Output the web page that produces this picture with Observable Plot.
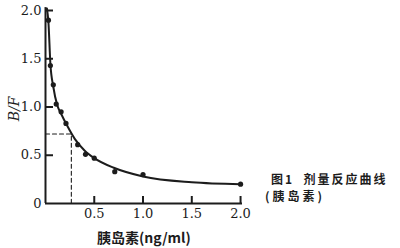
<!DOCTYPE html>
<html><head><meta charset="utf-8">
<script src="https://cdn.jsdelivr.net/npm/d3@7"></script>
<script src="https://cdn.jsdelivr.net/npm/@observablehq/plot@0.6"></script>
<style>
body{margin:0;background:#fff;}
#wrap{position:relative;width:400px;height:248px;overflow:hidden;}
.lbl{position:absolute;color:#1c1c1c;white-space:pre;line-height:1;}
</style></head>
<body><div id="wrap"></div>
<script>
// Measured points: insulin (ng/ml) vs B/F
const dose = [0.03, 0.05, 0.08, 0.11, 0.16, 0.21, 0.33, 0.41, 0.50, 0.71, 1.0, 2.0];
const bf   = [1.90, 1.43, 1.23, 1.03, 0.95, 0.83, 0.61, 0.51, 0.47, 0.33, 0.30, 0.20];
// Fitted curve
const curveX = [0.015, 0.03, 0.05, 0.08, 0.12, 0.16, 0.22, 0.30, 0.40, 0.50, 0.70, 1.0, 1.5, 2.0];
const curveY = [2.02, 1.88, 1.45, 1.21, 1.02, 0.93, 0.81, 0.67, 0.55, 0.47, 0.37, 0.28, 0.22, 0.20];
// Dashed read-off line
const refX = 0.265, refY = 0.72;
const yTicks = [0, 0.5, 1.0, 1.5, 2.0];
const yTickLabels = ["0", "0.5", "1.0", "1.5", "2.0"];
const xTicks = [0.5, 1.0, 1.5, 2.0];
const xTickLabels = ["0.5", "1.0", "1.5", "2.0"];
const xTitle = "胰岛素(ng/ml)";
const yTitle = "B/F";
const caption1 = "图1  剂量反应曲线";
const caption2 = "(胰岛素)";

const pts = dose.map((d, i) => ({x: d, y: bf[i]}));
const curve = curveX.map((d, i) => ({x: d, y: curveY[i]}));
const ink = "#1c1c1c";
const serif = "DejaVu Serif";

const chart = Plot.plot({
  width: 400, height: 248,
  marginLeft: 45, marginRight: 158, marginTop: 10, marginBottom: 45,
  style: {background: "transparent"},
  x: {domain: [0, 2.02]},
  y: {domain: [0, 2.0]},
  marks: [
    Plot.axisY({ticks: yTicks, tickFormat: (d, i) => yTickLabels[i], tickSize: 0, tickPadding: 4, label: null, fontFamily: serif, fontSize: 13, fill: ink}),
    Plot.axisX({ticks: xTicks, tickFormat: (d, i) => xTickLabels[i], tickSize: 0, tickPadding: 5, label: null, fontFamily: serif, fontSize: 13, fill: ink}),
    Plot.tickY(yTicks.slice(1), {y: d => d, stroke: ink, strokeWidth: 2, insetRight: 189}),
    Plot.tickX(xTicks, {x: d => d, stroke: ink, strokeWidth: 2, insetTop: 186}),
    Plot.ruleY([0], {stroke: ink, strokeWidth: 2}),
    Plot.ruleX([0], {stroke: ink, strokeWidth: 2, y1: 0, y2: 2.03}),
    Plot.line([{x: 0, y: refY}, {x: refX, y: refY}, {x: refX, y: 0}], {x: "x", y: "y", stroke: ink, strokeWidth: 1.1, strokeDasharray: "4,3"}),
    Plot.line(curve, {x: "x", y: "y", curve: "monotone-x", stroke: ink, strokeWidth: 2}),
    Plot.dot(pts, {x: "x", y: "y", r: 2.6, fill: ink, stroke: null})
  ]
});
const wrap = document.getElementById("wrap");
wrap.appendChild(chart);

function addLabel(text, css) {
  const d = document.createElement("div");
  d.className = "lbl";
  d.textContent = text;
  Object.assign(d.style, css);
  wrap.appendChild(d);
}
addLabel(yTitle, {left: "2px", top: "102px", fontFamily: "'DejaVu Serif', serif", fontStyle: "italic", fontSize: "14px", transform: "rotate(-90deg)", transformOrigin: "center"});
addLabel(xTitle, {left: "97px", top: "230px", fontFamily: "'Noto Sans CJK SC', sans-serif", fontWeight: "bold", fontSize: "14px"});
addLabel(caption1, {left: "271px", top: "173px", fontFamily: "'Noto Sans CJK SC', sans-serif", fontWeight: "bold", fontSize: "12px", letterSpacing: "2px"});
addLabel(caption2, {left: "265px", top: "190px", fontFamily: "'Noto Sans CJK SC', sans-serif", fontWeight: "bold", fontSize: "12px", letterSpacing: "3px"});
</script></body></html>
